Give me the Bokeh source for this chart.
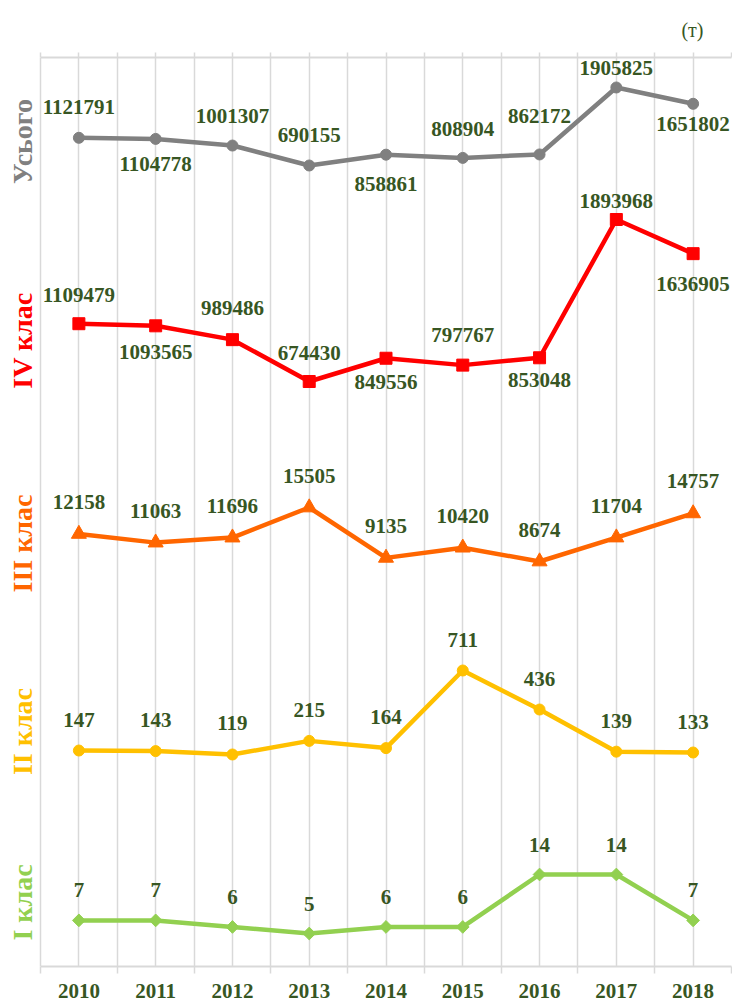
import numpy as np
from bokeh.plotting import figure
from bokeh.models import Range1d, LinearAxis, FixedTicker, ColumnDataSource, LabelSet, Label
from bokeh.embed import file_html
from bokeh.resources import INLINE
from bokeh.core.properties import value

# ---------------- data ----------------
years = [2010, 2011, 2012, 2013, 2014, 2015, 2016, 2017, 2018]
total = [1121791, 1104778, 1001307, 690155, 858861, 808904, 862172, 1905825, 1651802]
class4 = [1109479, 1093565, 989486, 674430, 849556, 797767, 853048, 1893968, 1636905]
class3 = [12158, 11063, 11696, 15505, 9135, 10420, 8674, 11704, 14757]
class2 = [147, 143, 119, 215, 164, 711, 436, 139, 133]
class1 = [7, 7, 6, 5, 6, 6, 14, 14, 7]
series_names = ["Усього", "IV клас", "III клас", "II клас", "I клас"]
unit_label = "(т)"

# ---------------- style / layout ----------------
FONT = "Liberation Serif"
LBL_COLOR = "#375623"
GRID_COLOR = "#d9d9d9"

# label vertical offsets (px, positive = up)
off_total = [31, -25, 30, 30, -29, 29, 38, 19, -20]
off_c4 = [29, -26, 32, 29, -24, 30, -22, 19, -30]
off_c3 = [32] * 9
off_c2 = [31] * 9
off_c1 = [30] * 9

series = [
    # key, values, offsets, color, marker, size, angle, y-range, label y (frame px from bottom)
    ("total", total, off_total, "#808080", "circle", 11, 0.0, (-11793875, 2373388), 825),
    ("c4", class4, off_c4, "#ff0000", "square", 12, 0.0, (-3729443, 3113506), 626),
    ("c3", class3, off_c3, "#ff6600", "triangle", 15, 0.0, (-42558, 72430), 423),
    ("c2", class2, off_c2, "#ffc000", "circle", 11, 0.0, (-1375.1, 5031.2), 235),
    ("c1", class1, off_c1, "#92d050", "square", 9, np.pi / 4, (-0.034, 138.63), 64),
]

bounds = [y - 0.5 for y in years] + [years[-1] + 0.5]
halves = sorted(set(bounds + years))
x0, x1 = years[0] - 0.5, years[-1] + 0.5
ppy = 691 / (x1 - x0)          # pixels per year in the plotting area
x_start = x0 - 40 / ppy        # frame extends to the left edge for the side labels

p = figure(width=732, height=1003, output_backend="svg", toolbar_location=None,
           x_range=Range1d(x_start, x1), y_range=Range1d(0, 909),
           min_border_left=0, min_border_right=1, min_border_top=57, min_border_bottom=37,
           y_axis_location=None, title=unit_label)
p.outline_line_color = None
p.background_fill_color = "white"
p.border_fill_color = "white"

p.title.align = "right"
p.title.offset = 28
p.title.text_font = FONT
p.title.text_font_style = "normal"
p.title.text_font_size = "20px"
p.title.text_color = LBL_COLOR
p.title.standoff = 23

for g in p.ygrid:
    g.visible = False
p.xgrid.ticker = FixedTicker(ticks=halves)
p.xgrid.grid_line_color = GRID_COLOR
p.xgrid.grid_line_width = 1.5

ax = p.xaxis[0]
ax.bounds = (x0, x1)
ax.ticker = FixedTicker(ticks=years, minor_ticks=bounds)
ax.axis_line_color = GRID_COLOR
ax.axis_line_width = 2
ax.major_tick_out = 0
ax.major_tick_in = 0
ax.minor_tick_out = 7
ax.minor_tick_in = 0
ax.minor_tick_line_color = GRID_COLOR
ax.minor_tick_line_width = 1.5
ax.major_label_standoff = 10
ax.major_label_text_font = FONT
ax.major_label_text_font_style = "bold"
ax.major_label_text_font_size = "21px"
ax.major_label_text_color = LBL_COLOR

top = LinearAxis(ticker=FixedTicker(ticks=halves), bounds=(x0, x1),
                 axis_line_color=GRID_COLOR, axis_line_width=2,
                 major_tick_out=5, major_tick_in=0, minor_tick_out=0, minor_tick_in=0,
                 major_tick_line_color=GRID_COLOR, major_tick_line_width=1.5,
                 major_label_text_color=None, major_label_text_font_size="6px",
                 major_label_standoff=2)
p.add_layout(top, "above")

p.extra_y_ranges = {k: Range1d(*rng) for k, _, _, _, _, _, _, rng, _ in series}

label_x = x0 - 18 / ppy
for (key, vals, offs, color, marker, size, ang, rng, ly), name in zip(series, series_names):
    src = ColumnDataSource(dict(x=years, y=vals, text=[str(v) for v in vals], dy=offs))
    p.line("x", "y", source=src, y_range_name=key, line_color=color, line_width=4.5)
    p.scatter("x", "y", source=src, y_range_name=key, marker=marker, size=size, angle=ang,
              fill_color=color, line_color=color)
    p.add_layout(LabelSet(x="x", y="y", text="text", y_offset="dy", source=src, y_range_name=key,
                          text_align="center", text_baseline="middle", text_font=value(FONT),
                          text_font_style="bold", text_font_size="21px", text_color=LBL_COLOR))
    p.add_layout(Label(x=label_x, y=ly, text=name, angle=np.pi / 2, text_align="center",
                       text_baseline="middle", text_font=FONT, text_font_style="bold",
                       text_font_size="28px", text_color=color))

open("out.html", "w").write(file_html(p, INLINE))
